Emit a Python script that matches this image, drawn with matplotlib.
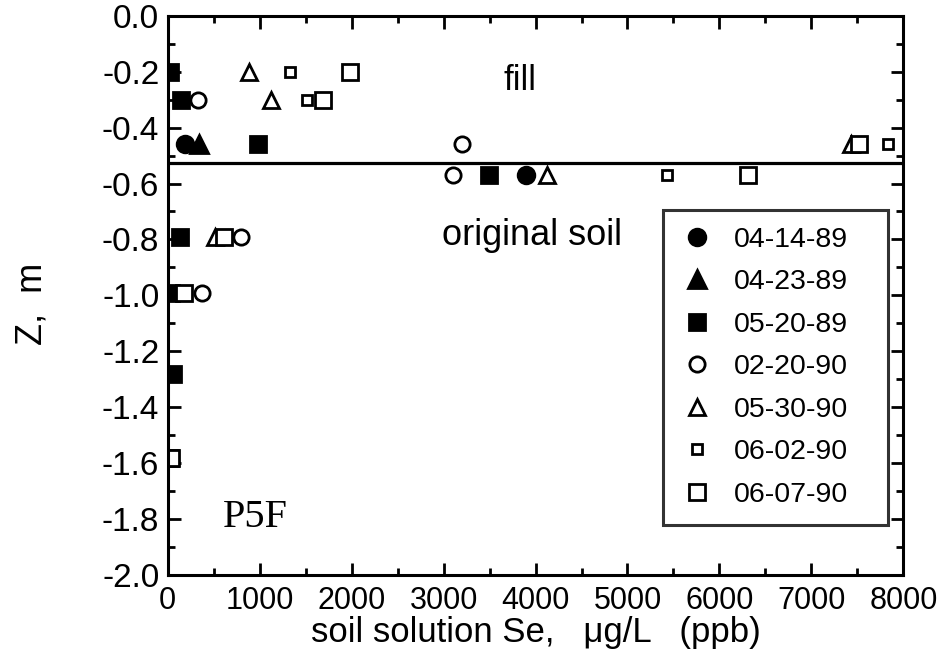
import matplotlib
matplotlib.use("Agg")
import matplotlib.pyplot as plt
from matplotlib.ticker import MultipleLocator

plt.rcParams['font.family'] = ['Liberation Sans', 'DejaVu Sans']

# soil solution Se (ug/L) and depth Z (m) for each sampling date
se_041489 = [185, 3900]
z_041489 = [-0.46, -0.57]
se_042389 = [340]
z_042389 = [-0.46]
se_052089 = [20, 150, 980, 3490, 130, 40, 60, 20]
z_052089 = [-0.20, -0.30, -0.46, -0.57, -0.79, -0.99, -1.28, -1.58]
se_022090 = [330, 3200, 3100, 800, 370]
z_022090 = [-0.30, -0.46, -0.57, -0.79, -0.99]
se_053090 = [880, 1120, 7430, 4130, 510]
z_053090 = [-0.20, -0.30, -0.46, -0.57, -0.79]
se_060290 = [1330, 1510, 7830, 5430]
z_060290 = [-0.20, -0.30, -0.46, -0.57]
se_060790 = [1980, 1690, 7520, 6310, 610, 175, 40]
z_060790 = [-0.20, -0.30, -0.46, -0.57, -0.79, -0.99, -1.58]

fill_boundary = -0.525

fig = plt.figure(figsize=(9.42, 6.69), dpi=100)
ax = fig.add_axes([0.178, 0.1405, 0.781, 0.836])

ew = 2.0
ax.plot(se_041489, z_041489, 'o', ms=12, mfc='black', mec='black', mew=ew, ls='none', label='04-14-89')
ax.plot(se_042389, z_042389, '^', ms=13, mfc='black', mec='black', mew=ew, ls='none', label='04-23-89')
ax.plot(se_052089, z_052089, 's', ms=12, mfc='black', mec='black', mew=ew, ls='none', label='05-20-89')
ax.plot(se_022090, z_022090, 'o', ms=11, mfc='white', mec='black', mew=ew, ls='none', label='02-20-90')
ax.plot(se_053090, z_053090, '^', ms=12, mfc='white', mec='black', mew=ew, ls='none', label='05-30-90')
ax.plot(se_060290, z_060290, 's', ms=7.5, mfc='white', mec='black', mew=ew, ls='none', label='06-02-90')
ax.plot(se_060790, z_060790, 's', ms=12, mfc='white', mec='black', mew=ew, ls='none', label='06-07-90')

ax.axhline(fill_boundary, color='black', lw=2.3)

ax.set_xlim(0, 8000)
ax.set_ylim(-2.0, 0.0)
ax.xaxis.set_major_locator(MultipleLocator(1000))
ax.xaxis.set_minor_locator(MultipleLocator(500))
ax.yaxis.set_major_locator(MultipleLocator(0.2))
ax.yaxis.set_minor_locator(MultipleLocator(0.1))
ax.yaxis.set_major_formatter(plt.FormatStrFormatter('%.1f'))
ax.tick_params(which='both', direction='in', top=True, right=True, width=2, colors='black')
ax.tick_params(which='major', length=9)
ax.tick_params(which='minor', length=5)
ax.tick_params(axis='y', labelsize=24, pad=6)
ax.tick_params(axis='x', labelsize=22, pad=8)
for sp in ax.spines.values():
    sp.set_linewidth(2.2)

ax.set_xlabel('soil solution Se,   \u03bcg/L   (ppb)', fontsize=25)
ax.xaxis.set_label_coords(0.5, -0.073)
ax.set_ylabel('Z,  m', fontsize=26)
ax.yaxis.set_label_coords(-0.16, 0.485)

ax.text(3830, -0.23, 'fill', fontsize=25, ha='center', va='center')
ax.text(3960, -0.785, 'original soil', fontsize=26, ha='center', va='center')
ax.text(958, -1.796, 'P5F', fontsize=29, ha='center', va='center', family=['Liberation Serif', 'DejaVu Serif'])

leg = ax.legend(loc='lower left', bbox_to_anchor=(0.6735, 0.0894, 0.306, 0.5), mode='expand',
                fontsize=20.5, frameon=True, fancybox=False, edgecolor='black',
                borderpad=0.6, labelspacing=0.58, handletextpad=0.67, handlelength=1.2,
                borderaxespad=0)
leg.get_frame().set_linewidth(2.2)

fig.savefig('out.png', dpi=100)
